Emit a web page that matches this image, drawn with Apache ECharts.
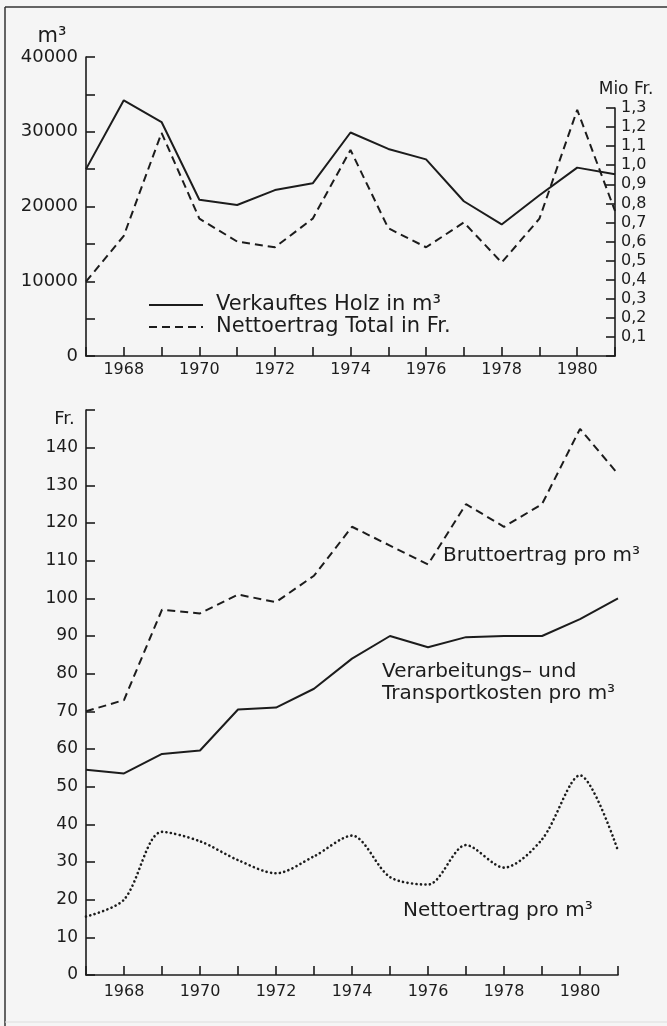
<!DOCTYPE html>
<html><head><meta charset="utf-8">
<script src="https://cdn.jsdelivr.net/npm/echarts@6/dist/echarts.min.js"></script>
<style>html,body{margin:0;padding:0;background:#f5f5f5}#c{width:667px;height:1026px}</style>
</head><body><div id="c"></div>
<script>
// ---- data ----
const years = [1967,1968,1969,1970,1971,1972,1973,1974,1975,1976,1977,1978,1979,1980,1981];
const holzM3 = [25000,34200,31300,20900,20200,22200,23100,29900,27700,26300,20700,17600,21500,25200,24300];
const nettoTotalMio = [0.39,0.63,1.17,0.72,0.60,0.57,0.72,1.08,0.67,0.57,0.70,0.49,0.72,1.29,0.76];
const bruttoProM3 = [70,73,97,96,101,99,106,119,114,109,125,119,125,145,133];
const kostenProM3 = [54.5,53.5,58.7,59.6,70.5,71,76,84,90,87,89.7,90,90,94.5,100];
const nettoProM3 = [15.5,20,38,35.5,30.5,27,31.5,37,26,24,34.5,28.5,36,53,33];
const yearLabels = [1968,1970,1972,1974,1976,1978,1980];
const m3Labels = [0,10000,20000,30000,40000];
const mioLabels = [0.1,0.2,0.3,0.4,0.5,0.6,0.7,0.8,0.9,1.0,1.1,1.2,1.3];
const frLabels = [0,10,20,30,40,50,60,70,80,90,100,110,120,130,140];
const seriesNames = ['Verkauftes Holz in m³','Nettoertrag Total in Fr.'];
const curveNames = ['Bruttoertrag pro m³','Verarbeitungs– und','Transportkosten pro m³','Nettoertrag pro m³'];

const ink = '#1c1c1c';
const FONT = 'DejaVu Sans';
const pair = arr => years.map((y,i)=>[y,arr[i]]);
const near = (list,v) => list.some(t => Math.abs(t-v) < 1e-6);

const xBase = (gi, margin, show) => ({
  type:'value', gridIndex:gi, min:1967, max:1981, interval:1, show:show,
  axisLine:{lineStyle:{color:ink,width:1.6}},
  axisTick:{inside:true,length:9,lineStyle:{color:ink,width:1.6}},
  splitLine:{show:false},
  axisLabel:{margin:margin,color:ink,fontFamily:FONT,fontSize:16,
    formatter:v=>near(yearLabels,v)?String(v):''}
});

const chart = echarts.init(document.getElementById('c'),null,{renderer:'canvas'});
chart.setOption({
  backgroundColor:'#f5f5f5',
  animation:false,
  textStyle:{fontFamily:FONT,color:ink},
  grid:[
    {left:86,right:52,top:57,height:299},
    {left:86,right:52,top:108,height:248},
    {left:86,right:49,top:410,height:565}
  ],
  xAxis:[ xBase(0,6,true), xBase(1,6,false), xBase(2,9,true) ],
  yAxis:[
    {type:'value',gridIndex:0,min:0,max:40000,interval:5000,
     name:'m³',nameLocation:'end',nameGap:10,
     nameTextStyle:{color:ink,fontFamily:FONT,fontSize:21,align:'center',padding:[0,68,0,0]},
     axisLine:{show:true,lineStyle:{color:ink,width:1.6}},
     axisTick:{show:true,inside:true,length:9,lineStyle:{color:ink,width:1.6}},
     splitLine:{show:false},
     axisLabel:{margin:8,color:ink,fontFamily:FONT,fontSize:18,
       formatter:v=>near(m3Labels,v)?String(v):''}},
    {type:'value',gridIndex:1,position:'right',min:0,max:1.3,interval:0.1,
     name:'Mio Fr.',nameLocation:'end',nameGap:10,
     nameTextStyle:{color:ink,fontFamily:FONT,fontSize:17,align:'center',padding:[0,0,0,22]},
     axisLine:{show:true,lineStyle:{color:ink,width:1.6}},
     axisTick:{show:true,inside:true,length:9,lineStyle:{color:ink,width:1.6}},
     splitLine:{show:false},
     axisLabel:{margin:6,color:ink,fontFamily:FONT,fontSize:16,
       formatter:v=>near(mioLabels,v)?v.toFixed(1).replace('.',','):''}},
    {type:'value',gridIndex:2,min:0,max:150,interval:10,
     name:'Fr.',nameLocation:'end',nameGap:-18,
     nameTextStyle:{color:ink,fontFamily:FONT,fontSize:18,align:'center',padding:[0,43,0,0]},
     axisLine:{show:true,lineStyle:{color:ink,width:1.6}},
     axisTick:{show:true,inside:true,length:9,lineStyle:{color:ink,width:1.6}},
     splitLine:{show:false},
     axisLabel:{margin:8,color:ink,fontFamily:FONT,fontSize:17,
       formatter:v=>near(frLabels,v)?String(v):''}}
  ],
  legend:{
    data:seriesNames, orient:'vertical', left:143, top:289,
    itemWidth:54, itemHeight:14, itemGap:0,
    itemStyle:{opacity:0},
    textStyle:{fontFamily:FONT,fontSize:21,color:ink,lineHeight:22,padding:[0,0,0,8]}
  },
  series:[
    {name:seriesNames[0],type:'line',xAxisIndex:0,yAxisIndex:0,data:pair(holzM3),
     symbol:'none',lineStyle:{color:ink,width:2,type:'solid'},itemStyle:{color:ink}},
    {name:seriesNames[1],type:'line',xAxisIndex:1,yAxisIndex:1,data:pair(nettoTotalMio),
     symbol:'none',lineStyle:{color:ink,width:2,type:[8,5]},itemStyle:{color:ink}},
    {name:curveNames[0],type:'line',xAxisIndex:2,yAxisIndex:2,data:pair(bruttoProM3),
     symbol:'none',lineStyle:{color:ink,width:2,type:[8,5]}},
    {name:curveNames[2],type:'line',xAxisIndex:2,yAxisIndex:2,data:pair(kostenProM3),
     symbol:'none',lineStyle:{color:ink,width:2,type:'solid'}},
    {name:curveNames[3],type:'line',xAxisIndex:2,yAxisIndex:2,data:pair(nettoProM3),
     symbol:'none',smooth:0.3,lineStyle:{color:ink,width:2.6,type:[0.1,4.4],cap:'round'}}
  ],
  graphic:[
    {type:'line',shape:{x1:5,y1:7,x2:5,y2:1026},style:{stroke:'#333',lineWidth:1.5},silent:true},
    {type:'line',shape:{x1:5,y1:7,x2:667,y2:7},style:{stroke:'#333',lineWidth:1.5},silent:true},
    {type:'line',shape:{x1:5,y1:1022,x2:667,y2:1022},style:{stroke:'#ddd',lineWidth:1},silent:true},
    {type:'text',left:443,top:546,style:{text:curveNames[0],font:'20px "DejaVu Sans"',fill:ink}},
    {type:'text',left:382,top:662,style:{text:curveNames[1],font:'20px "DejaVu Sans"',fill:ink}},
    {type:'text',left:382,top:684,style:{text:curveNames[2],font:'20px "DejaVu Sans"',fill:ink}},
    {type:'text',left:403,top:901,style:{text:curveNames[3],font:'20px "DejaVu Sans"',fill:ink}}
  ]
});
</script></body></html>
